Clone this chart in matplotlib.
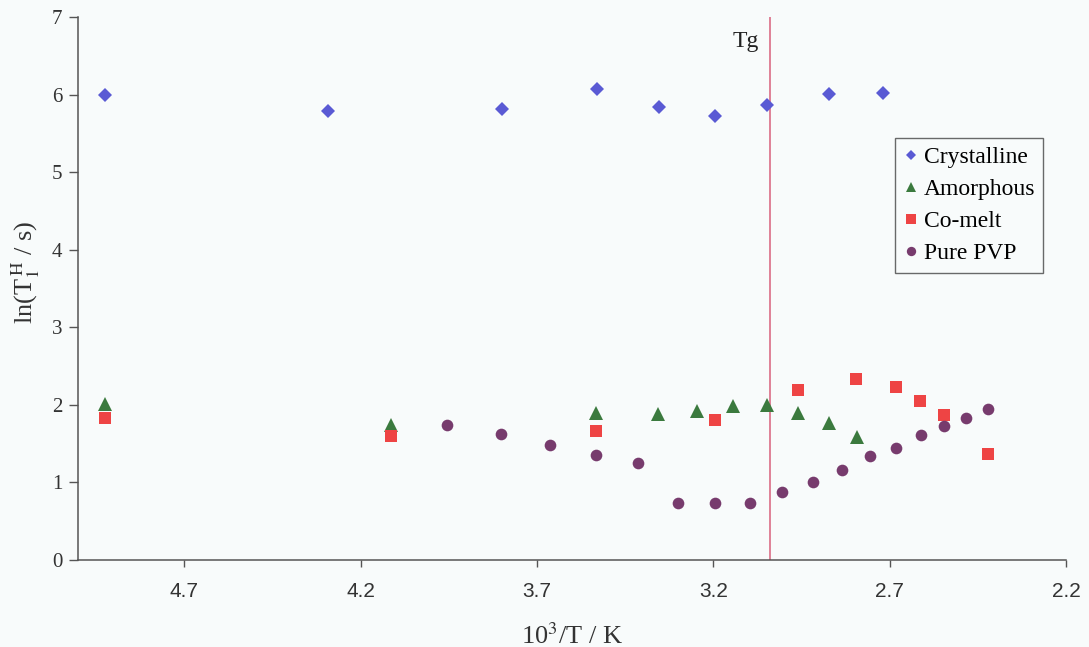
"""Recreate ln(T1H) vs 10^3/T scatter chart."""

import matplotlib

matplotlib.use("Agg")
import matplotlib.pyplot as plt

# data
cryst_x = [4.924, 4.291, 3.800, 3.531, 3.354, 3.194, 3.048, 2.872, 2.719]
cryst_y = [5.99, 5.79, 5.81, 6.07, 5.84, 5.73, 5.87, 6.01, 6.02]

amorph_x = [4.924, 4.114, 3.533, 3.356, 3.246, 3.144, 3.049, 2.960, 2.873, 2.793]
amorph_y = [2.01, 1.74, 1.90, 1.88, 1.92, 1.98, 2.00, 1.89, 1.76, 1.58]

comelt_x = [4.924, 4.114, 3.533, 3.196, 2.960, 2.794, 2.683, 2.613, 2.546, 2.422]
comelt_y = [1.83, 1.60, 1.66, 1.81, 2.19, 2.33, 2.23, 2.05, 1.87, 1.37]

pvp_x = [3.954, 3.802, 3.663, 3.533, 3.413, 3.300, 3.196, 3.097, 3.004,
         2.917, 2.835, 2.757, 2.683, 2.612, 2.547, 2.483, 2.422]
pvp_y = [1.74, 1.63, 1.48, 1.35, 1.25, 0.74, 0.74, 0.74, 0.87,
         1.00, 1.16, 1.34, 1.44, 1.61, 1.73, 1.83, 1.95]

tg_x = 3.04
x_ticks = [4.7, 4.2, 3.7, 3.2, 2.7, 2.2]
y_ticks = [0, 1, 2, 3, 4, 5, 6, 7]

serif = "Liberation Serif"
sans = "Liberation Sans"
plt.rcParams["mathtext.fontset"] = "stix"

bg = "#f8fbfb"
fig = plt.figure(figsize=(10.89, 6.47), dpi=100, facecolor=bg)
ax = fig.add_axes([0.0719, 0.1345, 0.907, 0.8392])
ax.set_facecolor(bg)

ax.plot(cryst_x, cryst_y, "D", ms=6.8, color="#5a5ad4", mew=0, label="Crystalline")
ax.plot(amorph_x, amorph_y, "^", ms=9.5, color="#3b7a3e", mew=0, label="Amorphous")
ax.plot(comelt_x, comelt_y, "s", ms=9, color="#ee4444", mew=0, label="Co-melt")
ax.plot(pvp_x, pvp_y, "o", ms=8.4, color="#773b6d", mew=0, label="Pure PVP")

ax.axvline(tg_x, color="#d8607c", lw=1.1, zorder=0)
ax.annotate("Tg", xy=(tg_x, 6.68), xytext=(-8, 0), textcoords="offset points",
            ha="right", va="center", fontsize=17, family=serif, color="#222222")

ax.set_xlim(5.0, 2.2)
ax.set_ylim(0, 7)
ax.set_xticks(x_ticks)
ax.set_xticklabels([f"{v:.1f}" for v in x_ticks], family=sans, fontsize=15, color="#333333")
ax.set_yticks(y_ticks)
ax.set_yticklabels([str(v) for v in y_ticks], family=serif, fontsize=15, color="#333333")
ax.tick_params(axis="x", direction="out", length=5, width=1, pad=11, color="#555555")
ax.tick_params(axis="y", direction="out", length=6.5, width=1, pad=5, color="#555555")

for side in ("top", "right"):
    ax.spines[side].set_visible(False)
for side in ("left", "bottom"):
    ax.spines[side].set_color("#555555")
    ax.spines[side].set_linewidth(1.1)

ax.set_xlabel(r"10$^3$/T / K", family=serif, fontsize=19, color="#333333", labelpad=16)
ax.set_ylabel(r"ln(T$_1^{\,\mathrm{H}}$ / s)", family=serif, fontsize=19, color="#333333")
ax.yaxis.set_label_coords(-0.037, 0.53)

leg = ax.legend(loc="upper right", bbox_to_anchor=(0.977, 0.777), prop={"family": serif, "size": 17},
                frameon=True, fancybox=False, handlelength=0.6, handletextpad=0.25,
                borderpad=0.35, labelspacing=0.45, markerscale=0.8, borderaxespad=0)
leg.get_frame().set_edgecolor("#444444")
leg.get_frame().set_linewidth(1.0)
leg.get_frame().set_facecolor(bg)

fig.savefig("out.png", dpi=100, facecolor=bg)
plt.close(fig)
